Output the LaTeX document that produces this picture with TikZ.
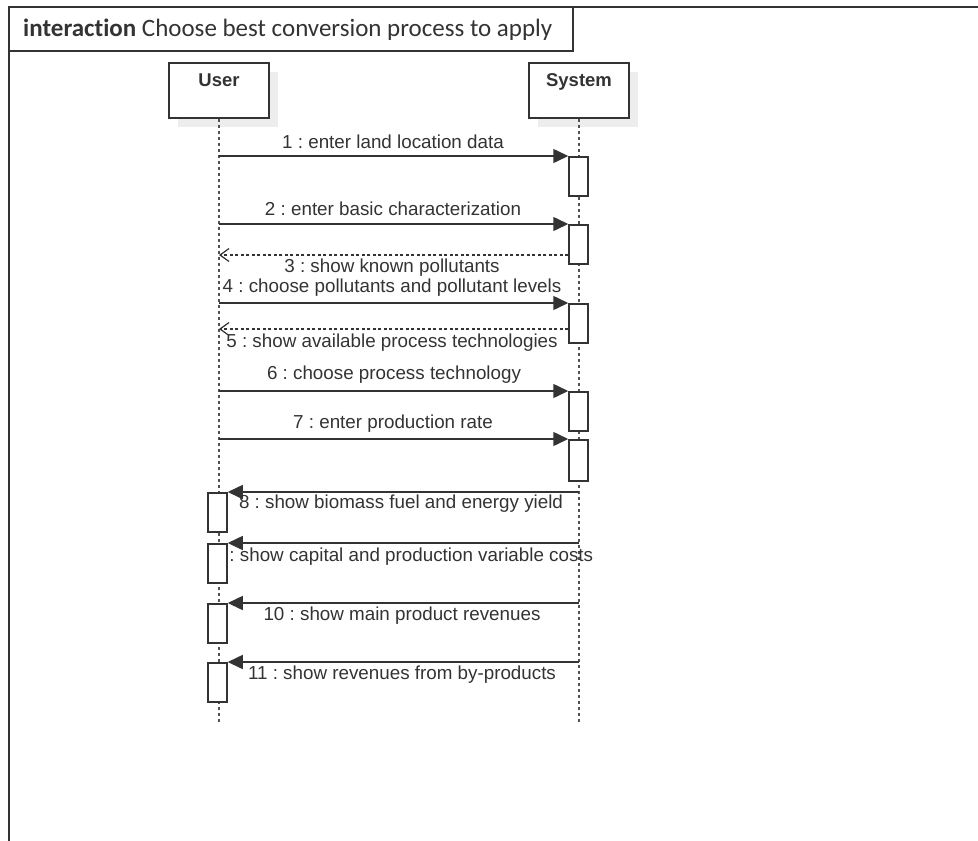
\documentclass[tikz,border=0pt]{standalone}
\usepackage{fontspec}
\setmainfont{Liberation Sans}
\newfontfamily\titlefont{Carlito}[Ligatures=NoCommon]
\usetikzlibrary{arrows.meta,shadows}
\frenchspacing

\definecolor{ink}{HTML}{333333}
\definecolor{txt}{HTML}{333333}
\definecolor{shade}{HTML}{EDEDED}

\tikzset{
  every node/.style={text=txt},
  framepen/.style={draw=ink, line width=1.8pt},
  headbox/.style={draw=ink, fill=white, line width=1.5pt, minimum width=100pt,
    minimum height=55pt, inner sep=0pt,
    drop shadow={shadow xshift=9pt, shadow yshift=-9pt, fill=shade, opacity=1}},
  headlbl/.style={font=\fontsize{18.5}{20}\selectfont\bfseries, inner sep=0pt, anchor=north},
  lifeline/.style={draw=ink!85, line width=1.5pt, dash pattern=on 3pt off 3pt},
  actbox/.style={draw=ink, fill=white, line width=1.5pt, minimum width=19pt,
    minimum height=39pt, inner sep=0pt, anchor=north},
  call/.style={draw=ink, line width=1.5pt, -{Triangle[length=15pt,width=14pt]}},
  reply/.style={draw=ink, line width=1.3pt, dash pattern=on 3pt off 2.5pt,
    -{Straight Barb[length=9pt,width=13pt,line width=1.2pt]}},
  msg/.style={font=\fontsize{18.8}{21}\selectfont, inner sep=0pt},
}

\begin{document}
\begin{tikzpicture}[x=1pt,y=-1pt]
\useasboundingbox (0,0) rectangle (978,841);

% outer frame (only its top and left edges are visible) and the title tab
\draw[framepen] (978,7) -- (9,7) -- (9,841);
\draw[framepen, line width=1.5pt] (9,7) rectangle (573,51);
\node[anchor=base west, inner sep=0pt, font=\titlefont\fontsize{25}{28}\selectfont]
  (title) at (23,36) {\textbf{interaction} Choose best conversion process to apply};

% lifeline heads
\node[headbox] (user) at (219,90.5) {};
\node[headbox] (sys)  at (579,90.5) {};
\node[headlbl] (userlbl) at ([yshift=-11pt]user.north) {User};
\node[headlbl] (syslbl)  at ([yshift=-11pt]sys.north) {System};

% lifelines
\coordinate (userend) at (219,722);
\coordinate (sysend)  at (579,722);
\draw[lifeline] (user.south) -- (userend);
\draw[lifeline] (sys.south) -- (sysend);

% activations on System
\node[actbox] (a1) at (578.5,156) {};
\node[actbox] (a2) at (578.5,224) {};
\node[actbox] (a4) at (578.5,303) {};
\node[actbox] (a6) at (578.5,391) {};
\node[actbox, minimum height=41pt] (a7) at (578.5,439) {};

% messages User -> System
\draw[call] (a1.north west -| user) -- (a1.north west);
\node[msg] (m1) at (393,142) {1 : enter land location data};
\draw[call] (a2.north west -| user) -- (a2.north west);
\node[msg] (m2) at (393,209) {2 : enter basic characterization};
\draw[reply] ([yshift=-31pt]a2.north west) -- ([yshift=-31pt]a2.north west -| user);
\node[msg] (m3) at (392,268) {3 : show known pollutants};
\draw[call] (a4.north west -| user) -- (a4.north west);
\node[msg] (m4) at (392,288) {4 : choose pollutants and pollutant levels};
\draw[reply] ([yshift=-26pt]a4.north west) -- ([yshift=-26pt]a4.north west -| user);
\node[msg] (m5) at (392,343) {5 : show available process technologies};
\draw[call] (a6.north west -| user) -- (a6.north west);
\node[msg] (m6) at (394,375) {6 : choose process technology};
\draw[call] (a7.north west -| user) -- (a7.north west);
\node[msg] (m7) at (393,424) {7 : enter production rate};

% messages System -> User
\node[msg] (m8)  at (401,504) {8 : show biomass fuel and energy yield};
\node[msg] (m9)  at (403.5,557) {9 : show capital and production variable costs};
\node[msg] (m10) at (402,616) {10 : show main product revenues};
\node[msg] (m11) at (402,675) {11 : show revenues from by-products};

% activations on User
\node[actbox] (b8)  at (217.5,492) {};
\node[actbox] (b9)  at (217.5,543) {};
\node[actbox] (b10) at (217.5,603) {};
\node[actbox] (b11) at (217.5,662) {};

\draw[call] (b8.north east -| sys) -- (b8.north east);
\draw[call] (b9.north east -| sys) -- (b9.north east);
\draw[call] (b10.north east -| sys) -- (b10.north east);
\draw[call] (b11.north east -| sys) -- (b11.north east);
\end{tikzpicture}
\end{document}
